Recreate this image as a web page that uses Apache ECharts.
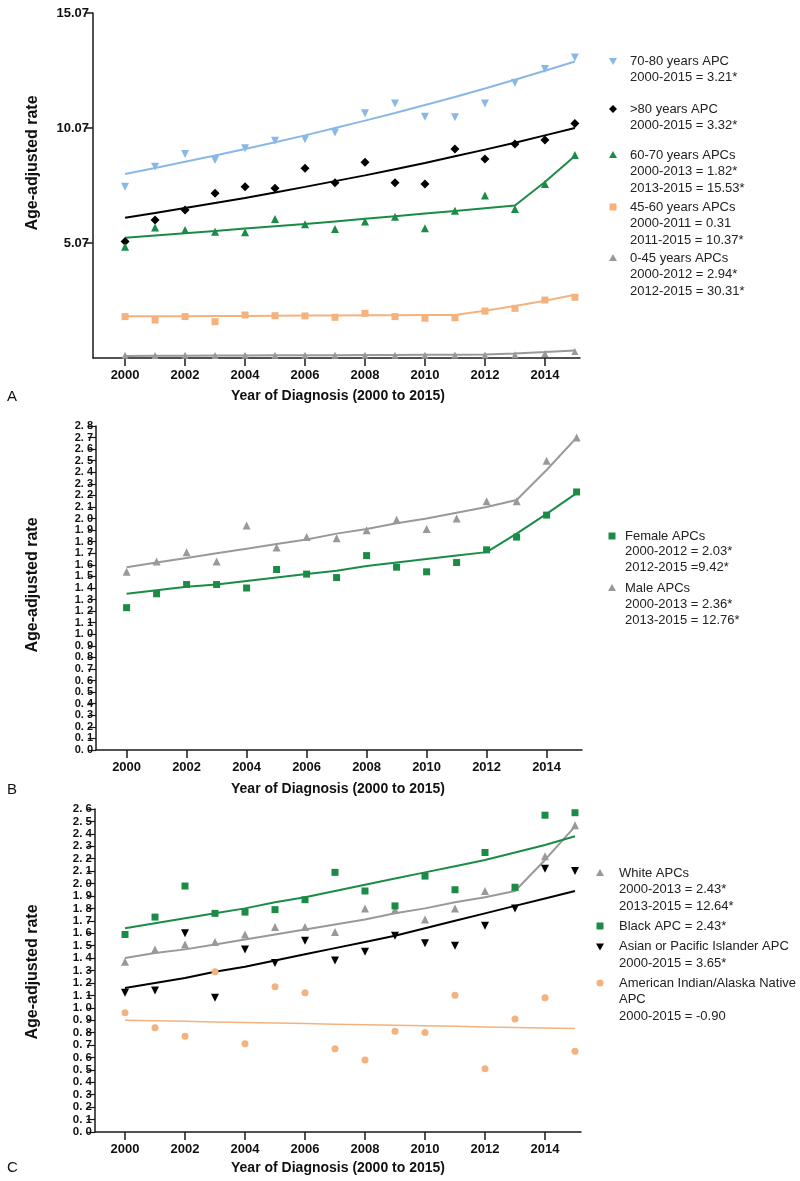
<!DOCTYPE html>
<html><head><meta charset="utf-8">
<script src="https://cdn.jsdelivr.net/npm/echarts@6/dist/echarts.min.js"></script>
<style>html,body{margin:0;padding:0;background:#fff}#c{width:800px;height:1181px}</style>
</head><body><div id="c"></div>
<script>
// ---------- DATA ----------
const years = [2000,2001,2002,2003,2004,2005,2006,2007,2008,2009,2010,2011,2012,2013,2014,2015];
const xTickYears = [2000,2002,2004,2006,2008,2010,2012,2014];
const aTickValues = [5.07,10.07,15.07];
const bTickValues = [0,0.1,0.2,0.3,0.4,0.5,0.6,0.7,0.8,0.9,1.0,1.1,1.2,1.3,1.4,1.5,1.6,1.7,1.8,1.9,2.0,2.1,2.2,2.3,2.4,2.5,2.6,2.7,2.8];
const cTickValues = [0,0.1,0.2,0.3,0.4,0.5,0.6,0.7,0.8,0.9,1.0,1.1,1.2,1.3,1.4,1.5,1.6,1.7,1.8,1.9,2.0,2.1,2.2,2.3,2.4,2.5,2.6];

// Panel A (age groups)
const a7080Pts = [7.52,8.39,8.94,8.68,9.19,9.52,9.58,9.87,10.71,11.14,10.56,10.54,11.14,12.04,12.64,13.14];
const a7080Fit = [8.07,8.33,8.60,8.87,9.16,9.45,9.75,10.07,10.39,10.72,11.07,11.42,11.79,12.17,12.56,12.96];
const a80Pts   = [5.13,6.07,6.50,7.23,7.52,7.45,8.32,7.69,8.58,7.69,7.64,9.16,8.72,9.37,9.55,10.27];
const a80Fit   = [6.17,6.37,6.59,6.81,7.03,7.27,7.51,7.76,8.01,8.28,8.55,8.84,9.13,9.43,9.75,10.07];
const a6070Pts = [4.91,5.74,5.63,5.56,5.54,6.11,5.88,5.68,6.00,6.21,5.71,6.47,7.13,6.55,7.64,8.90];
const a6070Fit = [5.30,5.40,5.49,5.59,5.70,5.80,5.90,6.01,6.12,6.23,6.35,6.46,6.58,6.70,7.72,8.85];
const a4560Pts = [1.87,1.72,1.87,1.65,1.94,1.91,1.90,1.84,2.01,1.87,1.80,1.82,2.11,2.23,2.59,2.71];
const a4560Fit = [1.88,1.89,1.89,1.90,1.90,1.91,1.92,1.92,1.93,1.93,1.94,1.94,2.12,2.33,2.56,2.82];
const a045Pts  = [0.19,0.18,0.19,0.18,0.19,0.19,0.19,0.19,0.19,0.19,0.19,0.20,0.20,0.21,0.27,0.35];
const a045Fit  = [0.16,0.165,0.17,0.175,0.18,0.185,0.19,0.195,0.20,0.205,0.21,0.215,0.22,0.27,0.33,0.40];

// Panel B (sex)
const bFemalePts = [1.23,1.35,1.43,1.43,1.40,1.56,1.52,1.49,1.68,1.58,1.54,1.62,1.73,1.84,2.03,2.23];
const bFemaleFit = [1.35,1.38,1.41,1.43,1.46,1.49,1.52,1.55,1.59,1.62,1.65,1.68,1.71,1.87,2.04,2.22];
const bMalePts   = [1.54,1.63,1.71,1.63,1.94,1.75,1.84,1.83,1.90,1.99,1.91,2.00,2.15,2.15,2.50,2.70];
const bMaleFit   = [1.58,1.62,1.66,1.70,1.74,1.78,1.82,1.87,1.91,1.96,2.00,2.05,2.10,2.16,2.42,2.70];

// Panel C (race)
const cWhitePts = [1.37,1.47,1.51,1.53,1.59,1.65,1.65,1.61,1.80,1.79,1.71,1.80,1.94,1.97,2.22,2.47];
const cWhiteFit = [1.40,1.44,1.47,1.51,1.55,1.59,1.63,1.67,1.71,1.76,1.80,1.85,1.89,1.94,2.19,2.46];
const cBlackPts = [1.59,1.73,1.98,1.76,1.77,1.79,1.87,2.09,1.94,1.82,2.06,1.95,2.25,1.97,2.55,2.57];
const cBlackFit = [1.64,1.68,1.72,1.76,1.80,1.85,1.89,1.94,1.99,2.04,2.09,2.14,2.19,2.25,2.31,2.38];
const cAsianPts = [1.12,1.14,1.60,1.08,1.47,1.36,1.54,1.38,1.45,1.58,1.52,1.50,1.66,1.80,2.12,2.10];
const cAsianFit = [1.16,1.20,1.24,1.29,1.33,1.38,1.43,1.48,1.53,1.58,1.64,1.70,1.76,1.82,1.88,1.94];
const cAianPts  = [0.96,0.84,0.77,1.29,0.71,1.17,1.12,0.67,0.58,0.81,0.80,1.10,0.51,0.91,1.08,0.65];
const cAianFit  = [0.90,0.895,0.891,0.886,0.882,0.877,0.873,0.868,0.864,0.859,0.855,0.851,0.846,0.842,0.838,0.834];

// ---------- STYLE ----------
const FONT = '"Liberation Sans", Arial, sans-serif';
const BLUE = '#8ab8e6', BLACK = '#000000', GREEN = '#1b8c47', ORANGE = '#f5b27e', GREY = '#999999';
const AXC = '#1a1a1a';

const chart = echarts.init(document.getElementById('c'), null, {renderer: 'canvas'});

function xAxisCfg(gi, min, max) {
  return {
    type: 'value', gridIndex: gi, min: min, max: max,
    axisLine: {show: true, onZero: false, lineStyle: {color: AXC, width: 1.5}},
    axisTick: {show: true, length: 8, customValues: xTickYears, lineStyle: {color: AXC, width: 1.5}},
    axisLabel: {customValues: xTickYears, margin: 11, color: '#111', fontFamily: FONT, fontWeight: 'bold', fontSize: 13, formatter: v => String(Math.round(v))},
    splitLine: {show: false}
  };
}
function dec(v) { return v.toFixed(1).replace('.', '. '); }
function yAxisSmall(gi, max, ticks, fs) {
  return {type: 'value', gridIndex: gi, min: 0, max: max,
    axisLine: {show: true, lineStyle: {color: AXC, width: 1.5}},
    axisTick: {show: true, length: 8, customValues: ticks, lineStyle: {color: AXC, width: 1.2}},
    axisLabel: {customValues: ticks, hideOverlap: false, showMinLabel: true, showMaxLabel: true, margin: 3, color: '#111', fontFamily: FONT, fontWeight: 'bold', fontSize: fs, formatter: dec},
    splitLine: {show: false}};
}

const pairs = arr => years.map((y, i) => [y, arr[i]]);
function pts(gi, arr, symbol, color, size, rotate) {
  return {type: 'scatter', xAxisIndex: gi, yAxisIndex: gi, data: pairs(arr), symbol: symbol,
    symbolSize: size, symbolRotate: rotate || 0, itemStyle: {color: color, opacity: 1}, z: 4, silent: true};
}
function fit(gi, arr, color, w) {
  return {type: 'line', xAxisIndex: gi, yAxisIndex: gi, data: pairs(arr), showSymbol: false,
    lineStyle: {color: color, width: w || 2}, z: 3, silent: true, animation: false};
}

// legend helpers
function sym(shape, cx, cy, color) {
  const s = 4;
  if (shape === 'tri') return {type: 'polygon', shape: {points: [[cx, cy - s], [cx + s, cy + s - 1], [cx - s, cy + s - 1]]}, style: {fill: color}};
  if (shape === 'dtri') return {type: 'polygon', shape: {points: [[cx - s, cy - s + 1], [cx + s, cy - s + 1], [cx, cy + s]]}, style: {fill: color}};
  if (shape === 'dia') return {type: 'polygon', shape: {points: [[cx, cy - s], [cx + s, cy], [cx, cy + s], [cx - s, cy]]}, style: {fill: color}};
  if (shape === 'sq') return {type: 'rect', shape: {x: cx - 3.5, y: cy - 3.5, width: 7, height: 7}, style: {fill: color}};
  return {type: 'circle', shape: {cx: cx, cy: cy, r: 3.5}, style: {fill: color}};
}
function txt(x, y, s) {
  return {type: 'text', x: x, y: y, style: {text: s, fill: '#222', font: '13px ' + FONT, textVerticalAlign: 'middle', verticalAlign: 'middle'}};
}
function legendItem(sx, tx, y0, lh, shape, color, lines) {
  const els = [sym(shape, sx, y0, color)];
  lines.forEach((l, i) => els.push(txt(tx, y0 + i * lh, l)));
  return els;
}
function bold(x, y, s, size, rot) {
  return {type: 'text', x: x, y: y, rotation: rot || 0,
    style: {text: s, fill: '#111', font: 'bold ' + size + 'px ' + FONT, textAlign: 'center', textVerticalAlign: 'middle', align: 'center', verticalAlign: 'middle'}};
}
function plain(x, y, s) {
  return {type: 'text', x: x, y: y, style: {text: s, fill: '#111', font: '15px ' + FONT, textVerticalAlign: 'middle', verticalAlign: 'middle'}};
}

let graphics = [];
graphics = graphics.concat(
  legendItem(613, 630, 61, 16.7, 'dtri', BLUE, ['70-80 years APC', '2000-2015 = 3.21*']),
  legendItem(613, 630, 109, 16.7, 'dia', BLACK, ['>80 years APC', '2000-2015 = 3.32*']),
  legendItem(613, 630, 155, 16.5, 'tri', GREEN, ['60-70 years APCs', '2000-2013 = 1.82*', '2013-2015 = 15.53*']),
  legendItem(613, 630, 207, 16.5, 'sq', ORANGE, ['45-60 years APCs', '2000-2011 = 0.31', '2011-2015 = 10.37*']),
  legendItem(613, 630, 258, 16.5, 'tri', GREY, ['0-45 years APCs', '2000-2012 = 2.94*', '2012-2015 = 30.31*']),
  legendItem(612, 625, 536, 15.5, 'sq', GREEN, ['Female APCs', '2000-2012 = 2.03*', '2012-2015 =9.42*']),
  legendItem(612, 625, 588, 16, 'tri', GREY, ['Male APCs', '2000-2013 = 2.36*', '2013-2015 = 12.76*']),
  legendItem(600, 619, 873, 16.5, 'tri', GREY, ['White APCs', '2000-2013 = 2.43*', '2013-2015 = 12.64*']),
  legendItem(600, 619, 926, 16.5, 'sq', GREEN, ['Black APC = 2.43*']),
  legendItem(600, 619, 946.5, 16.5, 'dtri', BLACK, ['Asian or Pacific Islander APC', '2000-2015 = 3.65*']),
  legendItem(600, 619, 983, 16.5, 'circ', ORANGE, ['American Indian/Alaska Native', 'APC', '2000-2015 = -0.90']),
  [
    bold(33, 163, 'Age-adjusted rate', 16, Math.PI / 2),
    bold(33, 585, 'Age-adjusted rate', 16, Math.PI / 2),
    bold(33, 972, 'Age-adjusted rate', 16, Math.PI / 2),
    bold(338, 396, 'Year of Diagnosis (2000 to 2015)', 14),
    bold(338, 789, 'Year of Diagnosis (2000 to 2015)', 14),
    bold(338, 1168, 'Year of Diagnosis (2000 to 2015)', 14),
    plain(7, 397, 'A'), plain(7, 790, 'B'), plain(7, 1168, 'C')
  ]
);

const option = {
  animation: false,
  backgroundColor: '#ffffff',
  grid: [
    {left: 93, top: 13, width: 487, height: 345},
    {left: 96, top: 426, width: 486, height: 324},
    {left: 95, top: 809, width: 486, height: 323}
  ],
  xAxis: [xAxisCfg(0, 1998.93, 2015.17), xAxisCfg(1, 1998.98, 2015.18), xAxisCfg(2, 1999.0, 2015.2)],
  yAxis: [
    {type: 'value', gridIndex: 0, min: 0.07, max: 15.07,
      axisLine: {show: true, lineStyle: {color: AXC, width: 1.5}},
      axisTick: {show: true, length: 8, customValues: aTickValues, lineStyle: {color: AXC, width: 1.5}},
      axisLabel: {customValues: aTickValues, showMaxLabel: true, margin: 4, color: '#111', fontFamily: FONT, fontWeight: 'bold', fontSize: 13, formatter: v => v.toFixed(2)},
      splitLine: {show: false}},
    yAxisSmall(1, 2.8, bTickValues, 11),
    yAxisSmall(2, 2.6, cTickValues, 11.5)
  ],
  series: [
    fit(0, a7080Fit, BLUE), pts(0, a7080Pts, 'triangle', BLUE, 8, 180),
    fit(0, a80Fit, BLACK), pts(0, a80Pts, 'diamond', BLACK, 9),
    fit(0, a6070Fit, GREEN), pts(0, a6070Pts, 'triangle', GREEN, 8),
    fit(0, a4560Fit, ORANGE), pts(0, a4560Pts, 'rect', ORANGE, 7),
    fit(0, a045Fit, GREY), pts(0, a045Pts, 'triangle', GREY, 7),

    fit(1, bMaleFit, GREY), pts(1, bMalePts, 'triangle', GREY, 8),
    fit(1, bFemaleFit, GREEN), pts(1, bFemalePts, 'rect', GREEN, 7),

    fit(2, cAianFit, ORANGE, 1.5), pts(2, cAianPts, 'circle', ORANGE, 7),
    fit(2, cAsianFit, BLACK), pts(2, cAsianPts, 'triangle', BLACK, 8, 180),
    fit(2, cWhiteFit, GREY), pts(2, cWhitePts, 'triangle', GREY, 8),
    fit(2, cBlackFit, GREEN), pts(2, cBlackPts, 'rect', GREEN, 7)
  ],
  graphic: {elements: graphics}
};
chart.setOption(option);
</script>
</body></html>
